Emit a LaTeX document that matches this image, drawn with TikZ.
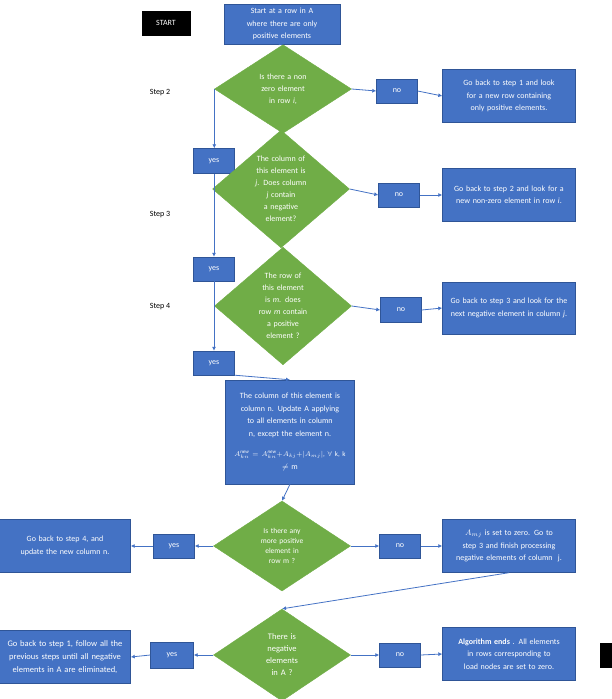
\documentclass[tikz,border=0pt]{standalone}
\usepackage{fontspec}
\setmainfont{Carlito}
\usetikzlibrary{shapes.geometric,arrows.meta}
\definecolor{bfill}{HTML}{4472C4}
\definecolor{bline}{HTML}{2F5597}
\definecolor{gfill}{HTML}{70AD47}
\hyphenpenalty=10000
\exhyphenpenalty=10000
\begin{document}
\begin{tikzpicture}[x=1pt,y=-1pt,
  box/.style={draw=bline,fill=bfill,text=white,inner sep=1pt,align=center,font=\fontsize{8}{12.5}\selectfont},
  dia/.style={diamond,draw=gfill,fill=gfill,text=white,inner sep=0pt,minimum width=137pt,align=center,font=\fontsize{8}{12}\selectfont},
  lbl/.style={font=\fontsize{8}{9}\selectfont},
  con/.style={draw=bfill,line width=0.8pt,-{Latex[length=4pt,width=4pt]}}]
\useasboundingbox (0,0) rectangle (612,699);
\node[fill=black,text=white,minimum width=49pt,minimum height=25pt,lbl] (start) at (166,23) {START};
\node[box,minimum width=116pt,minimum height=40pt,text width=85pt] (s0) at (282,24) {Start at a row in A where there are only positive elements};
\node[dia,minimum height=68pt,text width=58pt] (d1) at (283,89) {Is there a non zero element in row \textit{i},};
\node[box,minimum width=41pt,minimum height=24pt] (n1) at (397,91) {no};
\node[box,minimum width=133pt,minimum height=53pt,text width=112pt] (g1) at (509,96) {Go back to step 1 and look for a new row containing only positive elements.};
\node[lbl] (st2) at (160,93) {Step 2};
\node[box,minimum width=41pt,minimum height=25pt] (y1) at (214,161) {yes};
\node[dia,minimum height=116pt,text width=52pt] (d2) at (281,189) {The column of this element is \textit{j}. Does column \textit{j} contain a negative element?};
\node[box,minimum width=41pt,minimum height=24pt] (n2) at (399,195) {no};
\node[box,minimum width=133pt,minimum height=53pt,text width=112pt] (g2) at (509,195) {Go back to step 2 and look for a new non-zero element in row \textit{i}.};
\node[lbl] (st3) at (160,215) {Step 3};
\node[box,minimum width=41pt,minimum height=24pt] (y2) at (214,269) {yes};
\node[dia,minimum height=110pt,text width=52pt] (d3) at (283,306) {The row of this element is \textit{m}. does row \textit{m} contain a positive element ?};
\node[box,minimum width=41pt,minimum height=25pt] (n3) at (401,310) {no};
\node[box,minimum width=133pt,minimum height=52pt,text width=125pt] (g3) at (509,308) {Go back to step 3 and look for the next negative element in column \textit{j}.};
\node[lbl] (st4) at (160,307) {Step 4};
\node[box,minimum width=41pt,minimum height=24pt] (y3) at (214,363) {yes};
\node[box,minimum width=129pt,minimum height=104pt,text width=122pt] (c) at (290,432) {The column of this element is column n. Update A applying to all elements in column n, except the element n.\\[8pt]
{\fontsize{7}{9}\selectfont$A_{kn}^{\mathit{new}}=A_{kn}^{\mathit{new}}{+}A_{kj}{+}|A_{mj}|$, $\forall$ k, k}\\ $\neq$ m};
\node[dia,minimum height=90pt,text width=48pt,font=\fontsize{7.5}{10}\selectfont] (d4) at (282,546) {Is there any more positive element in row m ?};
\node[box,minimum width=41pt,minimum height=24pt] (y4) at (174,546) {yes};
\node[box,minimum width=131pt,minimum height=53pt,text width=122pt] (l4) at (65,546) {Go back to step 4, and update the new column n.};
\node[box,minimum width=41pt,minimum height=24pt] (n4) at (400,546) {no};
\node[box,minimum width=133pt,minimum height=53pt,text width=122pt] (r4) at (509,546) {$A_{mj}$ is set to zero. Go to step 3 and finish processing negative elements of column \ j.};
\node[dia,minimum height=88pt,text width=50pt,font=\fontsize{8.5}{12}\selectfont] (d5) at (282,655) {There is negative elements in A ?};
\node[box,minimum width=43pt,minimum height=26pt] (y5) at (172,655) {yes};
\node[box,minimum width=131pt,minimum height=53pt,text width=122pt,font=\fontsize{8.5}{13}\selectfont] (l5) at (65,657) {Go back to step 1, follow all the previous steps until all negative elements in A are eliminated,};
\node[box,minimum width=41pt,minimum height=24pt] (n5) at (400,655) {no};
\node[box,minimum width=133pt,minimum height=53pt,text width=122pt] (r5) at (509,654) {\textbf{Algorithm ends} . All elements in rows corresponding to load nodes are set to zero.};
\node[fill=black,minimum width=12pt,minimum height=25pt,inner sep=0pt] (blk) at (606,655) {};
% connectors
\draw[con] (s0.south) -- (d1.north);
\draw[con] (d1.east) -- (n1.west);
\draw[con] (n1.east) -- (g1.west);
\draw[con] (d1.west) -- (d1.west |- y1.north);
\draw[con] (d2.east) -- (n2.west);
\draw[con] (n2.east) -- (g2.west);
\draw[con] (y1.south) -- (y2.north);
\draw[con] (d3.east) -- (n3.west);
\draw[con] (n3.east) -- (g3.west);
\draw[con] (y2.south) -- (y3.north);
\draw[con] (y3.south east) -- (c.north);
\draw[con] (c.south) -- (d4.north);
\draw[con] (d4.west) -- (y4.east);
\draw[con] (y4.west) -- (l4.east);
\draw[con] (d4.east) -- (n4.west);
\draw[con] (n4.east) -- (r4.west);
\draw[con] (r4.south) -- (d5.north);
\draw[con] (d5.west) -- (y5.east);
\draw[con] (y5.west) -- (l5.east);
\draw[con] (d5.east) -- (n5.west);
\draw[con] (n5.east) -- (r5.west);
\end{tikzpicture}
\end{document}
